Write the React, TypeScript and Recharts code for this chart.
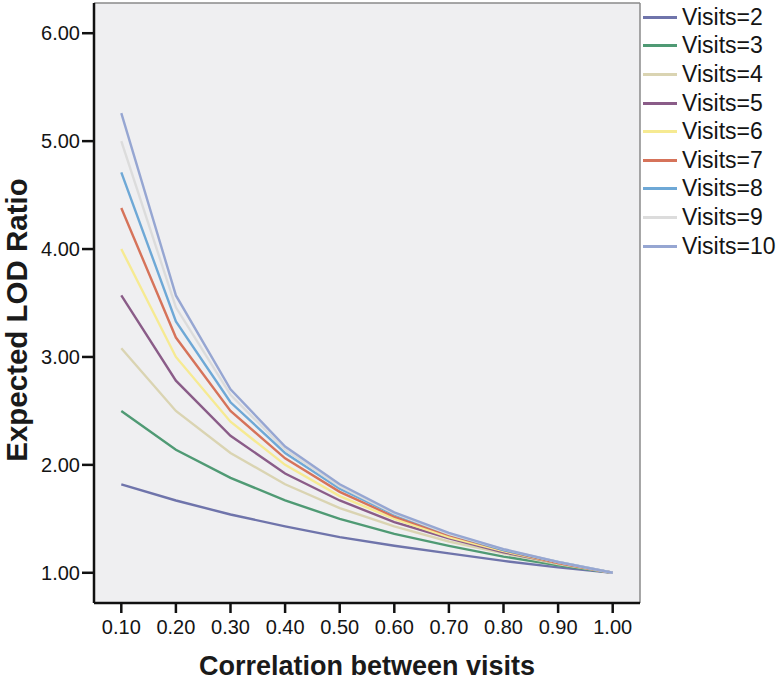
import React from "react";
import {
  LineChart,
  Line,
  XAxis,
  YAxis,
  CartesianGrid,
  ReferenceLine,
  Label,
} from "recharts";

const correlations = [0.1, 0.2, 0.3, 0.4, 0.5, 0.6, 0.7, 0.8, 0.9, 1.0];

const visits2 = [1.82, 1.67, 1.54, 1.43, 1.33, 1.25, 1.18, 1.11, 1.05, 1.0];
const visits3 = [2.5, 2.14, 1.88, 1.67, 1.5, 1.36, 1.25, 1.15, 1.07, 1.0];
const visits4 = [3.08, 2.5, 2.11, 1.82, 1.6, 1.43, 1.29, 1.18, 1.08, 1.0];
const visits5 = [3.57, 2.78, 2.27, 1.92, 1.67, 1.47, 1.32, 1.19, 1.09, 1.0];
const visits6 = [4.0, 3.0, 2.4, 2.0, 1.71, 1.5, 1.33, 1.2, 1.09, 1.0];
const visits7 = [4.38, 3.18, 2.5, 2.06, 1.75, 1.52, 1.35, 1.21, 1.09, 1.0];
const visits8 = [4.71, 3.33, 2.58, 2.11, 1.78, 1.54, 1.36, 1.21, 1.1, 1.0];
const visits9 = [5.0, 3.46, 2.65, 2.14, 1.8, 1.55, 1.36, 1.22, 1.1, 1.0];
const visits10 = [5.26, 3.57, 2.7, 2.17, 1.82, 1.56, 1.37, 1.22, 1.1, 1.0];

const xTicks = [0.1, 0.2, 0.3, 0.4, 0.5, 0.6, 0.7, 0.8, 0.9, 1.0];
const yTicks = [1, 2, 3, 4, 5, 6];

const series = [
  { key: "v2", name: "Visits=2", values: visits2, color: "#6f74ab" },
  { key: "v3", name: "Visits=3", values: visits3, color: "#4f9a74" },
  { key: "v4", name: "Visits=4", values: visits4, color: "#dad4b2" },
  { key: "v5", name: "Visits=5", values: visits5, color: "#8a5c88" },
  { key: "v6", name: "Visits=6", values: visits6, color: "#f6ea92" },
  { key: "v7", name: "Visits=7", values: visits7, color: "#d6735a" },
  { key: "v8", name: "Visits=8", values: visits8, color: "#6ea8d6" },
  { key: "v9", name: "Visits=9", values: visits9, color: "#dcdcdc" },
  { key: "v10", name: "Visits=10", values: visits10, color: "#96a6d2" },
];

const data = correlations.map((r, i) => {
  const row: Record<string, number> = { r };
  series.forEach((s) => {
    row[s.key] = s.values[i];
  });
  return row;
});

const FONT = "Arial, 'Liberation Sans', Helvetica, sans-serif";

function LegendList() {
  return (
    <div style={{ position: "absolute", left: 643, top: 3, fontFamily: FONT }}>
      {series.map((s) => (
        <div
          key={s.key}
          style={{ display: "flex", alignItems: "center", height: 28.6 }}
        >
          <div style={{ width: 34, height: 3, background: s.color, marginRight: 5 }} />
          <span style={{ fontSize: 23, color: "#141414", lineHeight: "23px" }}>{s.name}</span>
        </div>
      ))}
    </div>
  );
}

export default function App() {
  return (
    <div style={{ position: "absolute", left: 0, top: 0, width: 779, height: 681, background: "#fff" }}>
      <LineChart
        width={779}
        height={681}
        data={data}
        margin={{ top: 3, right: 139, bottom: 0, left: 0 }}
      >
        <CartesianGrid fill="#efeff1" stroke="transparent" horizontal={false} vertical={false} />
        <XAxis
          dataKey="r"
          type="number"
          domain={[0.05, 1.05]}
          ticks={xTicks}
          tickFormatter={(v: number) => v.toFixed(2)}
          height={78}
          tickSize={10}
          tickMargin={7}
          tick={{ fontSize: 20, fill: "#141414", fontFamily: FONT }}
          axisLine={{ stroke: "#111", strokeWidth: 2.5 }}
          tickLine={{ stroke: "#111", strokeWidth: 2.5 }}
        >
          <Label
            content={() => (
              <text
                x={367}
                y={675}
                textAnchor="middle"
                fontSize={27}
                fontWeight="bold"
                fontFamily={FONT}
                fill="#1a1a1a"
              >
                Correlation between visits
              </text>
            )}
          />
        </XAxis>
        <YAxis
          type="number"
          domain={[0.72, 6.28]}
          ticks={yTicks}
          tickFormatter={(v: number) => v.toFixed(2)}
          width={94}
          tickSize={12}
          tickMargin={2}
          tick={{ fontSize: 20, fill: "#141414", fontFamily: FONT }}
          axisLine={{ stroke: "#111", strokeWidth: 2.5 }}
          tickLine={{ stroke: "#111", strokeWidth: 2.5 }}
        >
          <Label
            content={() => (
              <text
                x={0}
                y={0}
                transform="translate(27, 320) rotate(-90)"
                textAnchor="middle"
                fontSize={29.5}
                fontWeight="bold"
                fontFamily={FONT}
                fill="#1a1a1a"
              >
                Expected LOD Ratio
              </text>
            )}
          />
        </YAxis>
        <ReferenceLine y={6.28} stroke="#8a8a8a" strokeWidth={1.5} />
        <ReferenceLine x={1.05} stroke="#8a8a8a" strokeWidth={1.5} />
        {series.map((s) => (
          <Line
            key={s.key}
            dataKey={s.key}
            name={s.name}
            type="linear"
            stroke={s.color}
            strokeWidth={2.4}
            dot={false}
            activeDot={false}
            isAnimationActive={false}
          />
        ))}
      </LineChart>
      <LegendList />
    </div>
  );
}
